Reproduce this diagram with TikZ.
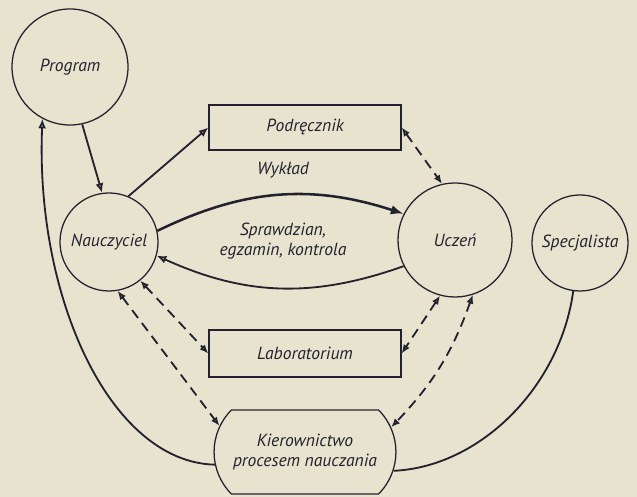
\documentclass[tikz,border=0pt]{standalone}
\usepackage{fontspec}
\setmainfont{PT Sans}
\usepackage{tikz}
\usetikzlibrary{shapes,shapes.misc,arrows.meta,positioning,calc}
\definecolor{paper}{RGB}{232,227,207}
\definecolor{ink}{RGB}{34,34,46}
\begin{document}
\begin{tikzpicture}[x=0.025cm, y=0.025cm, every node/.style={font=\itshape\fontsize{12.5}{14.5}\selectfont, text=ink},
  krug/.style={circle, draw=ink, line width=0.9pt, inner sep=0pt},
  pole/.style={rectangle, draw=ink, line width=0.9pt, minimum width=4.8cm, align=center},
  arr/.style={draw=ink, line width=1.3pt, -{Latex[open, length=2.4mm, width=2mm]}},
  darr/.style={draw=ink, line width=1.3pt, dash pattern=on 7pt off 4.5pt, {Latex[open, length=2.2mm, width=1.8mm]}-{Latex[open, length=2.2mm, width=1.8mm]}}]
\fill[paper] (0,0) rectangle (637,497);
\useasboundingbox (0,0) rectangle (637,497);
% wezly
\node[krug, minimum size=2.9cm] (prog) at (70,430) {Program};
\node[krug, minimum size=2.45cm] (naucz) at (109,255) {Nauczyciel};
\node[krug, minimum size=2.85cm] (uczen) at (455,257) {Uczeń};
\node[krug, minimum size=2.4cm] (spec) at (580,254) {Specjalista};
\node[pole, minimum height=1.125cm] (podr) at (305,369.5) {Podręcznik};
\node[pole, minimum height=1.175cm] (lab) at (305,143.5) {Laboratorium};
\node[rounded rectangle, rounded rectangle arc length=90, draw=ink, line width=0.9pt, minimum width=4.78cm, minimum height=2.1cm, align=center] (kier) at (305,45) {Kierownictwo\\procesem nauczania};
\node (wyk) at (283,327) {Wykład};
\node[align=center] (spr) at (283,256) {Sprawdzian,\\egzamin, kontrola};
% polaczenia
\draw[arr] (prog.-78) -- (naucz.98);
\draw[arr] (naucz.67) -- (podr.west);
\draw[darr] (podr.east) -- (uczen.103);
\draw[draw=ink, line width=1.8pt, -{Latex[length=3.2mm, width=2.4mm]}] (naucz.13) to[bend left=22] (uczen.153);
\draw[arr] (uczen.207) to[bend left=22] (naucz.-16);
\draw[darr] (naucz.-51) -- (lab.west);
\draw[darr] (naucz.-80) -- (kier.163);
\draw[darr] (uczen.-105) -- (lab.east);
\draw[darr] (uczen.-72) to[bend left=12] (kier.16);
\draw[arr] (kier.188) .. controls (110,35) and (35,200) .. (prog.-118);
\draw[draw=ink, line width=1.3pt] (spec.-98) .. controls (560,110) and (480,30) .. (kier.-12);
\end{tikzpicture}
\end{document}
